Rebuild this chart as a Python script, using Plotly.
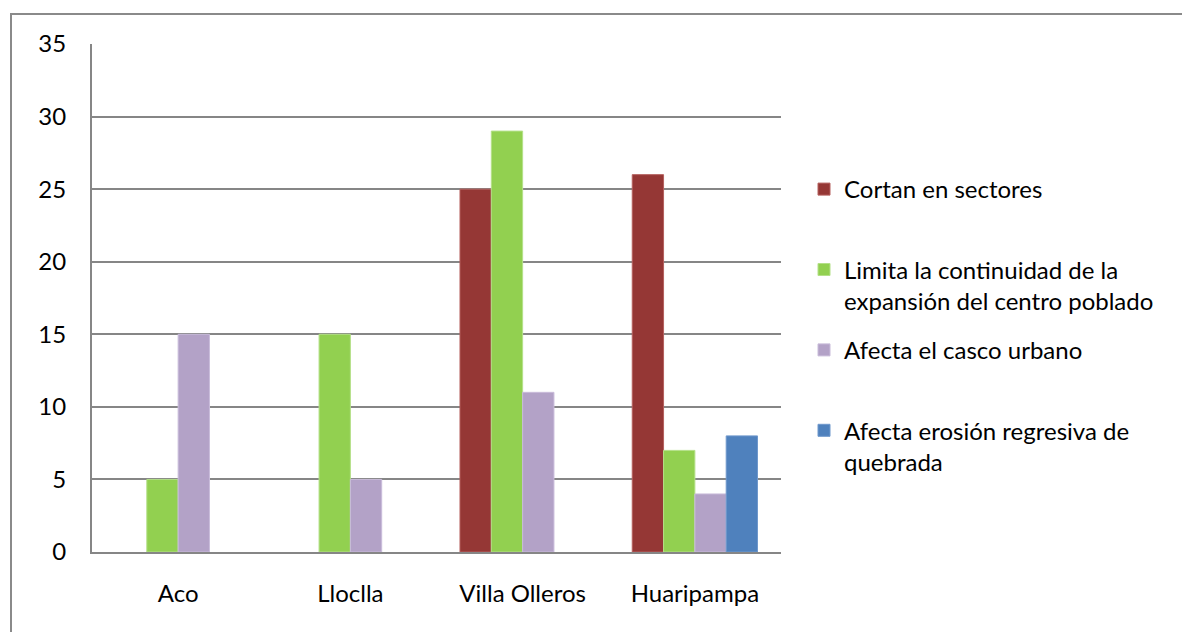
import plotly.graph_objects as go

# Localidades evaluadas
localidades = ["Aco", "Lloclla", "Villa Olleros", "Huaripampa"]

# Frecuencia de cada tipo de afectación por localidad
cortan_sectores = [None, None, 25, 26]
limita_expansion = [5, 15, 29, 7]
afecta_casco = [15, 5, 11, 4]
erosion_regresiva = [None, None, None, 8]

series_nombres = [
    "Cortan en sectores<br> ",
    "Limita la continuidad de la<br>expansión del centro poblado",
    "Afecta el casco urbano<br> ",
    "Afecta erosión regresiva de<br>quebrada",
]
series_valores = [cortan_sectores, limita_expansion, afecta_casco, erosion_regresiva]
series_colores = ["#953735", "#92D050", "#B3A2C7", "#4F81BD"]
series_bordes = ["#B5605E", "#B4E088", "#C9BCDA", "#6F98CC"]

y_ticks = [0, 5, 10, 15, 20, 25, 30, 35]

FONT = "Lato"
FS = 24
W, H = 1182, 632
ML, MR, MT, MB = 92, 401, 44, 80
PW, PH = W - ML - MR, H - MT - MB

fig = go.Figure()
for i, (nombre, vals, col, borde) in enumerate(
    zip(series_nombres, series_valores, series_colores, series_bordes)
):
    fig.add_trace(
        go.Bar(
            x=localidades,
            y=vals,
            name=nombre,
            legendgroup=f"g{i}",
            marker=dict(color=col, line=dict(color=borde, width=1)),
        )
    )

# Marco exterior del gráfico
def px_x(p):
    return (p - ML) / PW

def px_y(p):
    return (H - MB - p) / PH

fig.add_shape(
    type="rect",
    xref="paper", yref="paper",
    x0=px_x(11), x1=px_x(1200),
    y0=px_y(660), y1=px_y(14),
    line=dict(color="#8A8A8A", width=2),
    fillcolor="rgba(0,0,0,0)",
    layer="below",
)

fig.update_layout(
    width=W,
    height=H,
    margin=dict(l=ML, r=MR, t=MT, b=MB),
    paper_bgcolor="white",
    plot_bgcolor="white",
    barmode="group",
    bargap=1.5 / 5.5,
    bargroupgap=0,
    font=dict(family=FONT, size=FS, color="#000000"),
    showlegend=True,
    legend=dict(
        x=px_x(804),
        y=px_y(167),
        xanchor="left",
        yanchor="top",
        traceorder="grouped",
        tracegroupgap=15,
        valign="top",
        font=dict(family=FONT, size=FS, color="#000000"),
        bgcolor="rgba(0,0,0,0)",
    ),
    xaxis=dict(
        showgrid=False,
        showline=True,
        linecolor="#868686",
        linewidth=2,
        ticks="",
        ticklabelstandoff=19,
        tickfont=dict(family=FONT, size=FS),
    ),
    yaxis=dict(
        range=[0, 35],
        tickvals=y_ticks,
        showgrid=True,
        gridcolor="#868686",
        gridwidth=2,
        showline=True,
        linecolor="#868686",
        linewidth=2,
        zeroline=False,
        ticks="",
        ticklabelstandoff=19,
        tickfont=dict(family=FONT, size=FS),
    ),
)

fig.write_html("out.html")
